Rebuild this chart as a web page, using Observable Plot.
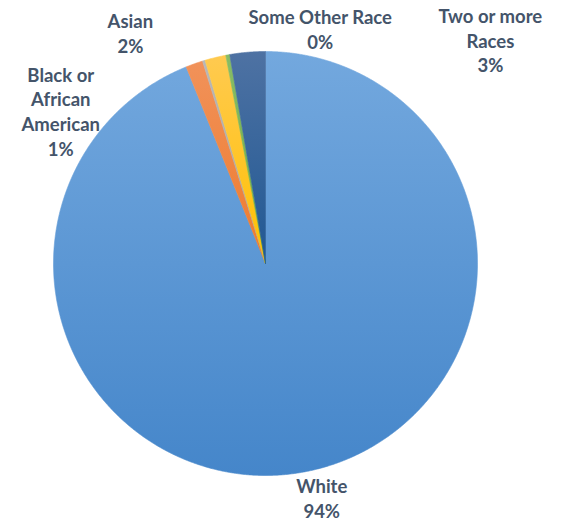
<!DOCTYPE html>
<html><head><meta charset="utf-8">
<script src="https://cdn.jsdelivr.net/npm/d3@7"></script>
<script src="https://cdn.jsdelivr.net/npm/@observablehq/plot@0.6"></script>
<style>body{margin:0;background:#fff}</style>
</head><body><div id="chart"></div>
<script>
// Data
const categories = ["White", "Black or African American", "American Indian and Alaska Native", "Asian", "Some Other Race", "Two or more Races"];
const values = [93.9, 1.3, 0.2, 1.6, 0.3, 2.7];
const labelLines = [["White"], ["Black or", "African", "American"], [], ["Asian"], ["Some Other Race"], ["Two or more", "Races"]];
const gradTop = ["#73a8de", "#f1925a", "#b8b8b8", "#ffca50", "#88bd66", "#4e72a3"];
const gradBottom = ["#4586ca", "#ee7a2c", "#a3a3a3", "#ffc000", "#6aa942", "#205893"];
// layout: pixel nudges of labels from their radial position
const labelNudge = [[11, 1], [-125, 71], [0, 0], [-79, 0], [97, -1], [245, 13]];

const R = 212;
const arcs = d3.pie().sort(null).value(d => d)(values);

const slices = arcs.map((a, i) => {
  const n = Math.max(2, Math.ceil((a.endAngle - a.startAngle) / (Math.PI / 720)));
  const pts = [{x: 0, y: 0}];
  for (let k = 0; k <= n; k++) {
    const t = a.startAngle + (a.endAngle - a.startAngle) * k / n;
    pts.push({x: Math.sin(t), y: Math.cos(t)});
  }
  pts.push({x: 0, y: 0});
  return pts;
});

const labels = arcs.map((a, i) => {
  const m = (a.startAngle + a.endAngle) / 2;
  return {
    x: 1.12 * Math.sin(m) + labelNudge[i][0] / R,
    y: 1.12 * Math.cos(m) - labelNudge[i][1] / R,
    text: [...labelLines[i], Math.round(values[i]) + "%"].join("\n"),
    show: labelLines[i].length > 0
  };
}).filter(d => d.show);

const marks = slices.map((pts, i) =>
  Plot.line(pts, {x: "x", y: "y", fill: `url(#g${i})`, stroke: `url(#g${i})`, strokeWidth: 0.6, curve: "linear"})
);
marks.push(Plot.text(labels, {
  x: "x", y: "y", text: "text", fill: "#44546a", fontWeight: "bold",
  lineHeight: 1.33, fontSize: 18.5
}));

const svg = Plot.plot({
  width: 562, height: 523,
  marginTop: 51, marginBottom: 48, marginLeft: 53, marginRight: 85,
  x: {domain: [-1, 1], axis: null},
  y: {domain: [-1, 1], axis: null},
  style: {fontFamily: "Lato, 'Open Sans', sans-serif", background: "#fff"},
  marks
});

const defs = d3.select(svg).insert("defs", ":first-child");
gradTop.forEach((c, i) => {
  const g = defs.append("linearGradient").attr("id", "g" + i)
    .attr("x1", 0).attr("y1", 0).attr("x2", 0).attr("y2", 1);
  g.append("stop").attr("offset", "0%").attr("stop-color", c);
  g.append("stop").attr("offset", "100%").attr("stop-color", gradBottom[i]);
});

document.getElementById("chart").appendChild(svg);
</script>
</body></html>
